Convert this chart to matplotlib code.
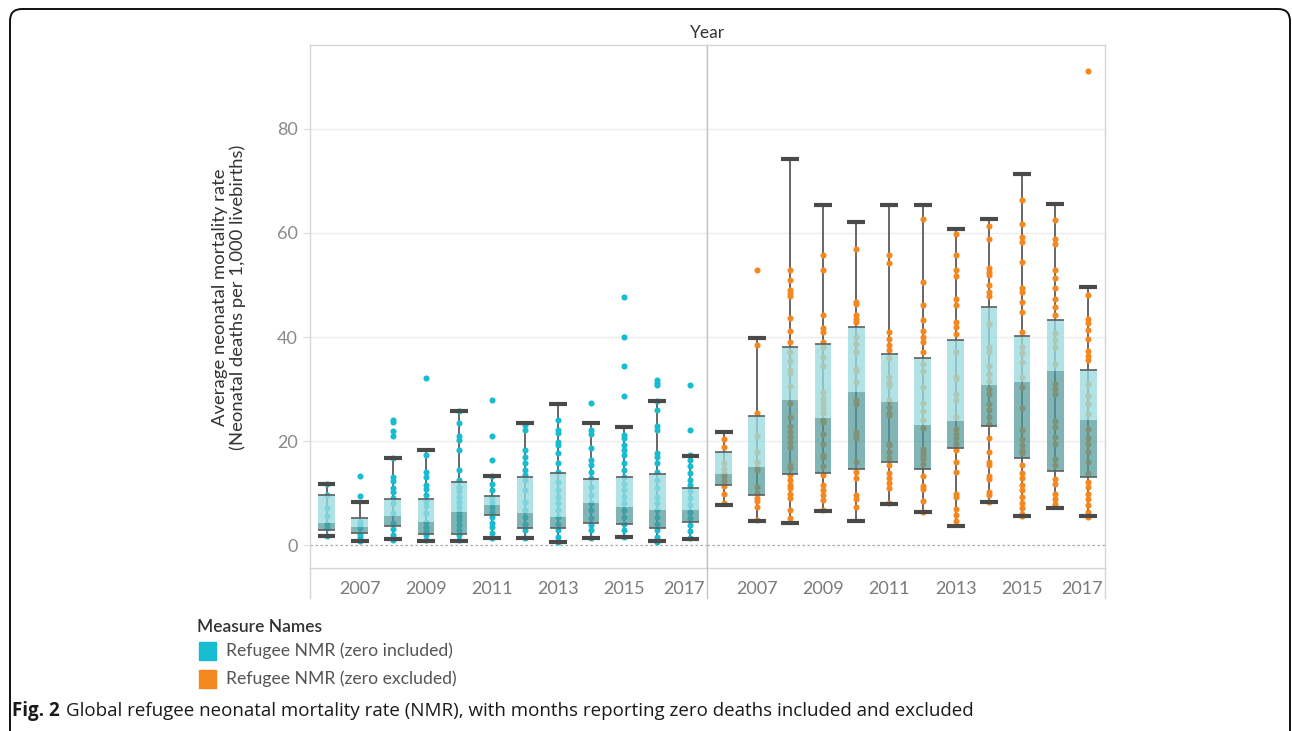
import numpy as np
import matplotlib.pyplot as plt
from matplotlib.patches import Rectangle, FancyBboxPatch
from matplotlib.lines import Line2D
from matplotlib.transforms import ScaledTranslation

plt.rcParams['font.family'] = ['Lato', 'DejaVu Sans']

W, H = 1292, 731

years = list(range(2006, 2018))
year_labels = ['', '2007', '', '2009', '', '2011', '', '2013', '', '2015', '', '2017']

# box plot stats, zero-month values included
inc_lo = [1.8, 0.8, 1.1, 0.8, 0.8, 1.3, 1.3, 0.5, 1.3, 1.6, 0.8, 1.1]
inc_q1 = [2.8, 2.4, 3.6, 2.2, 2.1, 5.7, 3.3, 3.3, 4.3, 4.1, 3.3, 4.4]
inc_med = [4.2, 3.4, 5.5, 4.4, 6.3, 7.6, 6.1, 5.3, 8.1, 7.4, 6.8, 6.8]
inc_q3 = [9.6, 5.2, 8.9, 8.9, 12.1, 9.4, 13.1, 13.9, 12.6, 13.1, 13.7, 11.0]
inc_hi = [11.7, 8.2, 16.7, 18.3, 25.8, 13.3, 23.4, 27.2, 23.4, 22.6, 27.6, 17.2]

# box plot stats, zero-month values excluded
exc_lo = [7.6, 4.7, 4.2, 6.6, 4.7, 7.9, 6.3, 3.7, 8.2, 5.5, 7.1, 5.5]
exc_q1 = [11.5, 9.6, 13.6, 13.9, 14.6, 16.0, 14.6, 18.7, 22.9, 16.8, 14.2, 13.1]
exc_med = [13.7, 15.0, 27.8, 24.4, 29.4, 27.5, 23.1, 23.8, 30.7, 31.3, 33.4, 24.1]
exc_q3 = [17.9, 24.8, 38.1, 38.6, 42.0, 36.8, 35.9, 39.4, 45.8, 40.2, 43.3, 33.7]
exc_hi = [21.7, 39.8, 74.3, 65.3, 62.2, 65.3, 65.3, 60.8, 62.6, 71.4, 65.6, 49.6]

# monthly NMR values, zero included
inc_2006 = [11.8, 9.6, 7.2, 5.5, 4.0, 3.2, 1.8]
inc_2007 = [13.3, 9.5, 4.5, 3.8, 3.2, 2.2, 1.6, 0.7]
inc_2008 = [24.0, 23.7, 21.9, 20.9, 16.7, 13.0, 12.3, 10.9, 10.1, 9.0, 8.0, 6.1, 4.2, 3.0, 1.9, 1.0]
inc_2009 = [32.1, 17.3, 14.1, 13.0, 11.5, 10.7, 9.6, 8.5, 7.5, 6.2, 4.5, 3.5, 2.6, 1.9, 1.0]
inc_2010 = [25.8, 23.4, 20.9, 20.2, 18.3, 14.4, 12.5, 11.2, 10.3, 9.3, 8.3, 7.4, 6.4, 5.6, 4.8,
            3.8, 2.9, 1.9, 1.0]
inc_2011 = [27.9, 20.9, 16.3, 13.3, 11.8, 10.6, 9.3, 8.3, 7.4, 6.4, 5.4, 4.3, 3.4, 2.4, 1.3]
inc_2012 = [23.1, 22.1, 18.3, 17.0, 15.8, 14.4, 13.4, 12.5, 10.5, 8.3, 6.7, 5.4, 4.1, 2.9, 1.3]
inc_2013 = [24.0, 22.1, 21.5, 19.9, 19.2, 17.6, 15.7, 14.1, 12.2, 10.5, 9.3, 8.0, 6.7, 5.4, 4.1,
            2.9, 1.6, 0.5]
inc_2014 = [27.4, 22.1, 21.3, 18.6, 16.3, 15.4, 14.1, 12.8, 11.2, 9.6, 8.0, 6.7, 5.1, 3.8, 2.9, 1.3]
inc_2015 = [47.7, 40.0, 34.4, 28.6, 21.1, 20.5, 19.2, 18.3, 17.3, 15.7, 14.4, 13.1, 11.8, 10.5,
            9.3, 8.0, 6.7, 5.4, 4.1, 2.9, 1.6]
inc_2016 = [31.7, 31.2, 30.8, 27.6, 26.0, 22.8, 22.1, 17.6, 17.0, 15.7, 14.1, 12.5, 10.9, 9.3,
            8.0, 6.7, 5.4, 4.1, 2.9, 1.6, 0.6]
inc_2017 = [30.8, 22.1, 17.3, 16.3, 15.1, 13.8, 12.5, 11.5, 10.3, 9.0, 7.7, 6.4, 5.1, 3.8, 2.6, 1.3]

# monthly NMR values, zero excluded
exc_2006 = [20.3, 18.9, 15.8, 14.6, 13.8, 13.2, 12.4, 11.3, 9.9, 8.1]
exc_2007 = [52.8, 38.5, 25.3, 21.0, 17.8, 16.0, 14.8, 14.4, 11.1, 10.0, 9.1, 8.4, 7.4, 4.8]
exc_2008 = [52.9, 51.0, 49.0, 48.4, 47.8, 43.7, 41.1, 39.0, 37.2, 35.3, 33.7, 33.0, 30.5, 27.3,
            24.7, 22.8, 21.8, 20.8, 19.9, 18.9, 15.4, 14.8, 13.5, 12.5, 11.5, 10.9, 9.9, 9.0, 6.7, 5.1]
exc_2009 = [55.8, 52.9, 44.2, 41.7, 41.0, 39.0, 38.1, 36.2, 34.5, 29.5, 28.2, 27.3, 26.3, 25.3,
            24.0, 23.7, 21.4, 19.5, 17.3, 16.9, 15.2, 13.5, 11.5, 10.6, 9.6, 8.7, 6.7]
exc_2010 = [56.9, 46.8, 46.4, 44.2, 43.5, 42.9, 40.0, 38.7, 37.1, 33.9, 33.5, 31.3, 27.8, 27.2,
            21.8, 21.1, 20.5, 15.9, 14.0, 12.8, 9.6, 8.9, 7.4]
exc_2011 = [55.8, 54.2, 41.0, 39.7, 38.4, 37.5, 35.9, 32.4, 31.2, 30.5, 27.9, 26.6, 25.3, 25.0,
            19.5, 19.2, 17.9, 16.7, 15.4, 13.8, 12.8, 11.9, 10.9, 8.0]
exc_2012 = [62.6, 50.6, 46.1, 43.2, 41.2, 40.0, 39.0, 37.1, 34.8, 33.5, 30.3, 27.4, 25.7, 24.1,
            22.5, 18.4, 17.8, 17.1, 16.5, 15.5, 13.3, 11.3, 10.7, 8.5, 6.3]
exc_2013 = [59.9, 55.8, 52.9, 51.7, 47.4, 46.1, 42.9, 41.9, 40.6, 37.1, 32.3, 32.0, 29.1, 27.8,
            24.6, 22.4, 21.4, 20.5, 19.5, 18.2, 15.9, 14.0, 9.9, 9.2, 7.0, 5.7, 4.7]
exc_2014 = [61.3, 58.9, 53.2, 52.5, 51.9, 50.0, 48.7, 47.9, 42.5, 38.1, 37.1, 34.5, 32.9, 31.6,
            30.0, 29.1, 27.1, 25.9, 24.6, 23.3, 20.5, 17.9, 15.9, 15.3, 13.3, 12.7, 10.2, 9.6, 8.2]
exc_2015 = [66.3, 61.8, 59.3, 58.3, 54.5, 49.4, 48.7, 46.8, 44.9, 41.0, 38.1, 36.9, 35.2, 32.4,
            30.4, 26.3, 22.1, 20.3, 19.2, 18.3, 17.6, 15.4, 13.8, 12.8, 11.5, 10.6, 9.3, 8.0, 7.1,
            6.0, 5.5]
exc_2016 = [62.5, 58.9, 57.8, 52.9, 51.3, 49.4, 47.4, 45.8, 44.2, 40.7, 39.4, 38.1, 34.8, 31.0,
            30.0, 29.1, 23.9, 22.6, 20.7, 19.4, 16.5, 15.3, 12.7, 11.7, 9.8, 8.8, 7.8]
exc_2017 = [91.2, 48.1, 43.5, 42.6, 41.3, 39.7, 37.4, 36.4, 35.5, 31.0, 28.6, 27.1, 25.1, 22.4,
            20.5, 19.5, 17.9, 16.0, 13.8, 12.2, 11.2, 9.9, 8.9, 7.7, 6.4, 5.4]

inc_points = [inc_2006, inc_2007, inc_2008, inc_2009, inc_2010, inc_2011,
              inc_2012, inc_2013, inc_2014, inc_2015, inc_2016, inc_2017]
exc_points = [exc_2006, exc_2007, exc_2008, exc_2009, exc_2010, exc_2011,
              exc_2012, exc_2013, exc_2014, exc_2015, exc_2016, exc_2017]

series_names = ['Refugee NMR (zero included)', 'Refugee NMR (zero excluded)']
series_colors = ['#17BCD0', '#F5871F']

LIGHT = '#9ADBE0'
DARK = '#4F9799'
GRID = '#ECECEC'
BORDER = '#D6D6D6'
DIVIDER = '#C4C4C4'


def fx(x):
    return x / W


def fy(y):
    return 1 - y / H


fig = plt.figure(figsize=(W / 100, H / 100), dpi=100)

ax1 = fig.add_axes([fx(310), fy(568), fx(397), 523 / H])
ax2 = fig.add_axes([fx(707), fy(568), fx(398), 523 / H], sharey=ax1)


def draw_panel(ax, lo, q1, med, q3, hi, points, color):
    bw = 0.5
    cw = 0.54
    for i in range(len(years)):
        ax.plot([i] * len(points[i]), points[i], 'o', color=color, ms=4.4,
                mec='none', zorder=3)
        ax.vlines(i, lo[i], hi[i], color='#5A5A5A', lw=1.3, zorder=2)
        ax.bar(i, q3[i] - med[i], bottom=med[i], width=bw, color=LIGHT,
               alpha=0.78, zorder=4, linewidth=0)
        ax.bar(i, med[i] - q1[i], bottom=q1[i], width=bw, color=DARK,
               alpha=0.72, zorder=4, linewidth=0)
        ax.hlines([q1[i], q3[i]], i - bw / 2, i + bw / 2, color='#5E5E5E',
                  lw=1.2, zorder=5)
        ax.hlines([lo[i], hi[i]], i - cw / 2, i + cw / 2, color='#4A4A4A',
                  lw=3, zorder=5)

    ax.set_xlim(-0.5, len(years) - 0.5)
    ax.set_ylim(-4.42, 96.15)
    ax.set_xticks(range(len(years)))
    ax.set_xticklabels(year_labels, color='#7A7A7A', fontsize=13)
    ax.tick_params(axis='x', length=0, pad=9)
    ax.set_yticks([0, 20, 40, 60, 80])
    for v in [20, 40, 60, 80]:
        ax.axhline(v, color=GRID, lw=1, zorder=0)
    ax.axhline(0, color='#A8A8A8', lw=0.9, ls=(0, (2, 2)), zorder=1)
    for s in ax.spines.values():
        s.set_color(BORDER)
        s.set_linewidth(1)
    # the 2017 label is nudged left so it stays inside its pane
    last = ax.get_xticklabels()[-1]
    last.set_transform(last.get_transform() + ScaledTranslation(-0.06, 0, fig.dpi_scale_trans))


draw_panel(ax1, inc_lo, inc_q1, inc_med, inc_q3, inc_hi, inc_points, series_colors[0])
draw_panel(ax2, exc_lo, exc_q1, exc_med, exc_q3, exc_hi, exc_points, series_colors[1])

ax1.spines['right'].set_color(DIVIDER)
ax2.spines['left'].set_color(DIVIDER)
ax1.tick_params(axis='y', length=5, color='#DDDDDD', labelcolor='#8A8A8A',
                labelsize=13, pad=4)
ax2.tick_params(axis='y', length=0, labelleft=False)

fig.text(fx(229), fy(297),
         'Average neonatal mortality rate\n(Neonatal deaths per 1,000 livebirths)',
         rotation=90, ha='center', va='center', fontsize=13.3, color='#333333',
         linespacing=1.15)

fig.text(fx(707), fy(33), 'Year', ha='center', va='center', fontsize=12.5, color='#333333')

# lines of the year header under the panes
for x, c in [(310, BORDER), (707, DIVIDER), (1105, BORDER)]:
    fig.add_artist(Line2D([fx(x), fx(x)], [fy(568), fy(598)], color=c, lw=1))

# legend
fig.text(fx(197), fy(627), 'Measure Names', ha='left', va='center', fontsize=12.5,
         color='#333333', fontweight='semibold')
for k, (name, col) in enumerate(zip(series_names, series_colors)):
    yc = 651 + 28 * k
    fig.add_artist(Rectangle((fx(199), fy(yc + 9)), 17 / W, 18 / H, color=col,
                             transform=fig.transFigure))
    fig.text(fx(226), fy(yc), name, ha='left', va='center', fontsize=12.7, color='#555555')

# caption
cap = fig.text(fx(12), fy(711), 'Fig. 2', ha='left', va='center', fontsize=13.5,
               fontweight='bold', color='#1A1A1A', family=['Open Sans', 'DejaVu Sans'])
fig.canvas.draw()
bb = cap.get_window_extent(fig.canvas.get_renderer())
fig.text(bb.x1 / W + 6 / W, fy(711),
         'Global refugee neonatal mortality rate (NMR), with months reporting zero deaths '
         'included and excluded', ha='left', va='center', fontsize=13.5, color='#1A1A1A',
         family=['Open Sans', 'DejaVu Sans'])

# rounded frame around the figure
frame = FancyBboxPatch((0.10, -0.4), 12.80, 7.62, boxstyle='round,pad=0,rounding_size=0.12',
                       transform=fig.dpi_scale_trans, fill=False, ec='#111111', lw=1.4)
fig.add_artist(frame)

fig.savefig('out.png', dpi=100)
